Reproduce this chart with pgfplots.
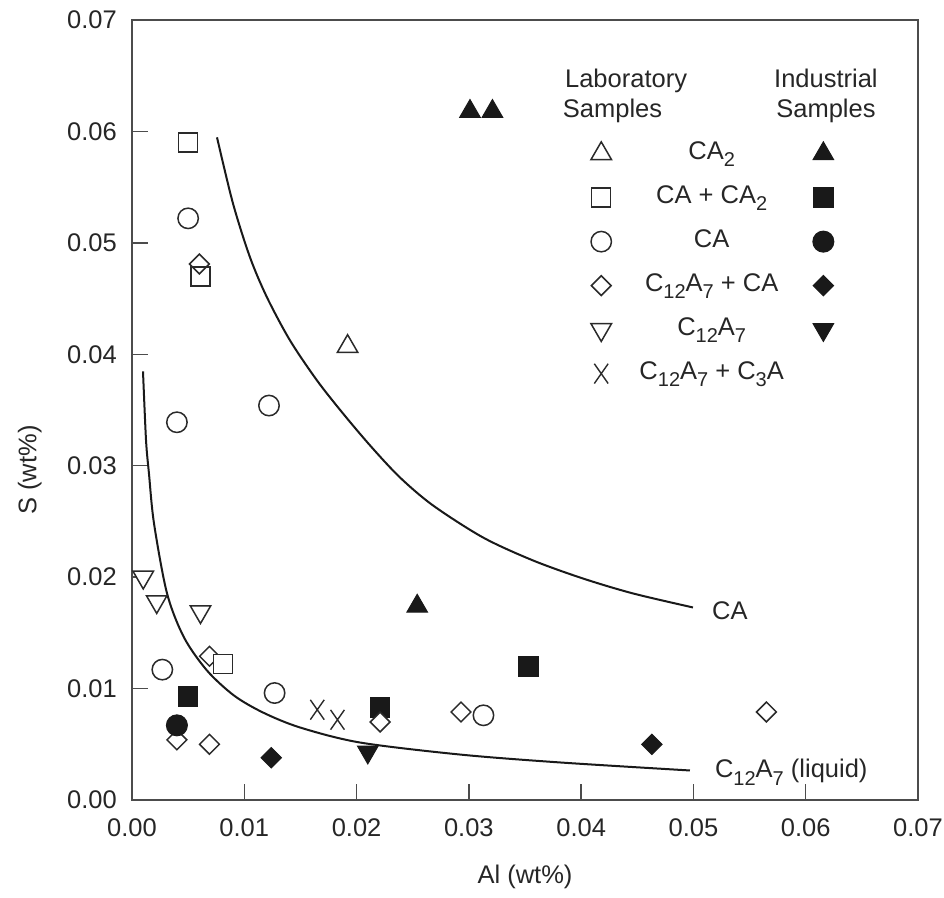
\documentclass[border=0pt]{standalone}
\usepackage{fontspec}
\setmainfont{Liberation Sans}
\usepackage{pgfplots}
\pgfplotsset{compat=1.18}
\newcommand{\sub}[1]{\raisebox{-0.3em}{\fontsize{20}{20}\selectfont #1}}
\definecolor{mk}{HTML}{2A2A2A}
\pgfplotsset{
 labtri/.style={only marks, mark=triangle*, mark size=11.8pt, mark options={draw=mk, fill=white, line width=1.5pt}},
 indtri/.style={only marks, mark=triangle*, mark size=11.8pt, mark options={draw=black!90, fill=black!90, line width=1pt}},
 labsq/.style={only marks, mark=square*, mark size=9.5pt, mark options={draw=mk, fill=white, line width=1.5pt}},
 indsq/.style={only marks, mark=square*, mark size=9.8pt, mark options={draw=black!90, fill=black!90, line width=1pt}},
 labci/.style={only marks, mark=*, mark size=10.2pt, mark options={draw=mk, fill=white, line width=1.5pt}},
 indci/.style={only marks, mark=*, mark size=10.5pt, mark options={draw=black!90, fill=black!90, line width=1pt}},
 labdi/.style={only marks, mark=square*, mark size=7pt, mark options={draw=mk, fill=white, line width=1.5pt, rotate=45}},
 labdinf/.style={only marks, mark=square, mark size=7pt, mark options={draw=mk, line width=1.5pt, rotate=45}},
 inddi/.style={only marks, mark=square*, mark size=7.2pt, mark options={draw=black!90, fill=black!90, line width=1pt, rotate=45}},
 labit/.style={only marks, mark=triangle*, mark size=11.8pt, mark options={draw=mk, fill=white, line width=1.5pt, rotate=180}},
 indit/.style={only marks, mark=triangle*, mark size=11.8pt, mark options={draw=black!90, fill=black!90, line width=1pt, rotate=180}},
 labx/.style={only marks, mark=x, mark size=14pt, mark options={draw=mk, line width=1.4pt, xscale=0.7}},
}
\begin{document}
\fontsize{25.5}{30}\selectfont
\begin{tikzpicture}
\useasboundingbox (-132pt,-97pt) rectangle (812pt,800pt);
\begin{axis}[
 scale only axis, width=786pt, height=780pt, at={(0pt,0pt)}, anchor=south west,
 xmin=0, xmax=0.07, ymin=0, ymax=0.07,
 xtick={0,0.01,0.02,0.03,0.04,0.05,0.06,0.07},
 ytick={0,0.01,0.02,0.03,0.04,0.05,0.06,0.07},
 xticklabels={0.00,0.01,0.02,0.03,0.04,0.05,0.06,0.07},
 yticklabels={0.00,0.01,0.02,0.03,0.04,0.05,0.06,0.07},
 scaled ticks=false,
 tick align=inside, xtick pos=bottom, ytick pos=left,
 major tick length=16pt,
 axis line style={line width=1.6pt, draw=black!70},
 every tick/.style={line width=1.4pt, draw=black!70},
 tick label style={font=\fontsize{25.5}{30}\selectfont, text=black!85},
 xticklabel style={yshift=-9.5pt},
 yticklabel style={xshift=-6.5pt},
 label style={font=\fontsize{25.5}{30}\selectfont, text=black!85},
 xlabel={Al (wt\%)}, ylabel={S (wt\%)},
 xlabel style={at={(axis description cs:0.5,-0.099)}, anchor=center},
 ylabel style={at={(axis description cs:-0.130,0.423)}, anchor=center},
 clip=false,
 legend columns=2,
 legend cell align=center,
 legend image code/.code={\draw[mark repeat=2,mark phase=2,#1] plot coordinates {(-12pt,0pt)(0pt,0pt)(12pt,0pt)};},
 legend style={draw=none, fill=none, inner sep=0pt, outer sep=0pt,
   at={(axis description cs:0.584,0.846)}, anchor=north west,
   font=\fontsize{25.5}{30}\selectfont, text=black!85,
   row sep=17pt,
   nodes={inner sep=0pt, text height=19pt, text depth=8pt},
   /tikz/every odd column/.append style={column sep=28pt},
   /tikz/every even column/.append style={column sep=29pt}},
]
% curves
\addplot[smooth, line width=2pt, black!90, forget plot] coordinates {
(0.00757,0.05947)(0.00899,0.05355)(0.01051,0.04870)(0.01202,0.04511)(0.01407,0.04125)
(0.01647,0.03766)(0.01879,0.03469)(0.02128,0.03173)(0.02386,0.02895)(0.02680,0.02644)
(0.03126,0.02356)(0.03571,0.02150)(0.04016,0.01988)(0.04461,0.01854)(0.04996,0.01728)};
\addplot[smooth, line width=2pt, black!90, forget plot] coordinates {
(0.00098,0.03846)(0.00125,0.03227)(0.00151,0.02931)(0.00196,0.02482)(0.00312,0.01854)
(0.00463,0.01459)(0.00668,0.01162)(0.00908,0.00938)(0.01167,0.00785)(0.01496,0.00651)
(0.02030,0.00516)(0.02921,0.00408)(0.03811,0.00337)(0.04969,0.00265)};
% industrial samples
\addplot[indtri, forget plot] coordinates {(0.0301,0.0618)(0.0321,0.0618)(0.0254,0.0174)};
\addplot[indsq, forget plot] coordinates {(0.0050,0.0093)(0.0221,0.0083)(0.0353,0.0120)};
\addplot[inddi, forget plot] coordinates {(0.0124,0.0038)(0.0463,0.0050)};
\addplot[indit, forget plot] coordinates {(0.0210,0.0043)};
% laboratory samples
\addplot[labdi, forget plot] coordinates {(0.0069,0.0129)(0.0040,0.0054)(0.0069,0.0050)(0.0221,0.0070)(0.0293,0.0079)(0.0565,0.0079)};
\addplot[indci, forget plot] coordinates {(0.0040,0.0067)};
\addplot[labtri, forget plot] coordinates {(0.0192,0.0407)};
\addplot[labsq, forget plot] coordinates {(0.0050,0.0590)(0.0061,0.0470)(0.0081,0.0122)};
\addplot[labdinf, forget plot] coordinates {(0.0060,0.0481)};
\addplot[labci, forget plot] coordinates {(0.0050,0.0522)(0.0040,0.0339)(0.0122,0.0354)(0.0027,0.0117)(0.0127,0.0096)(0.0313,0.0076)};
\addplot[labit, forget plot] coordinates {(0.0010,0.0200)(0.0022,0.0178)(0.0061,0.0169)};
\addplot[labx, forget plot] coordinates {(0.0165,0.0081)(0.0183,0.0072)};
% legend
\addlegendimage{labtri}\addlegendentry{CA\sub{2}}
\addlegendimage{indtri}\addlegendentry{}
\addlegendimage{labsq}\addlegendentry{CA + CA\sub{2}}
\addlegendimage{indsq}\addlegendentry{}
\addlegendimage{labci}\addlegendentry{CA}
\addlegendimage{indci}\addlegendentry{}
\addlegendimage{labdi}\addlegendentry{C\sub{12}A\sub{7} + CA}
\addlegendimage{inddi}\addlegendentry{}
\addlegendimage{labit}\addlegendentry{C\sub{12}A\sub{7}}
\addlegendimage{indit}\addlegendentry{}
\addlegendimage{labx}\addlegendentry{C\sub{12}A\sub{7} + C\sub{3}A}
\addlegendimage{empty legend}\addlegendentry{}
% text
\node[anchor=base west, text=black!85] at (axis cs:0.03780,0.06396) {Laboratory};
\node[anchor=base west, text=black!85] at (axis cs:0.03760,0.06127) {Samples};
\node[anchor=base, text=black!85] at (axis cs:0.06180,0.06396) {Industrial};
\node[anchor=base, text=black!85] at (axis cs:0.06180,0.06127) {Samples};
\node[anchor=base west, inner sep=0pt, text=black!85] at (axis cs:0.05165,0.01620) {CA};
\node[anchor=base west, inner sep=0pt, text=black!85] at (axis cs:0.05191,0.00202) {C\sub{12}A\sub{7} (liquid)};
\end{axis}
\end{tikzpicture}
\end{document}
